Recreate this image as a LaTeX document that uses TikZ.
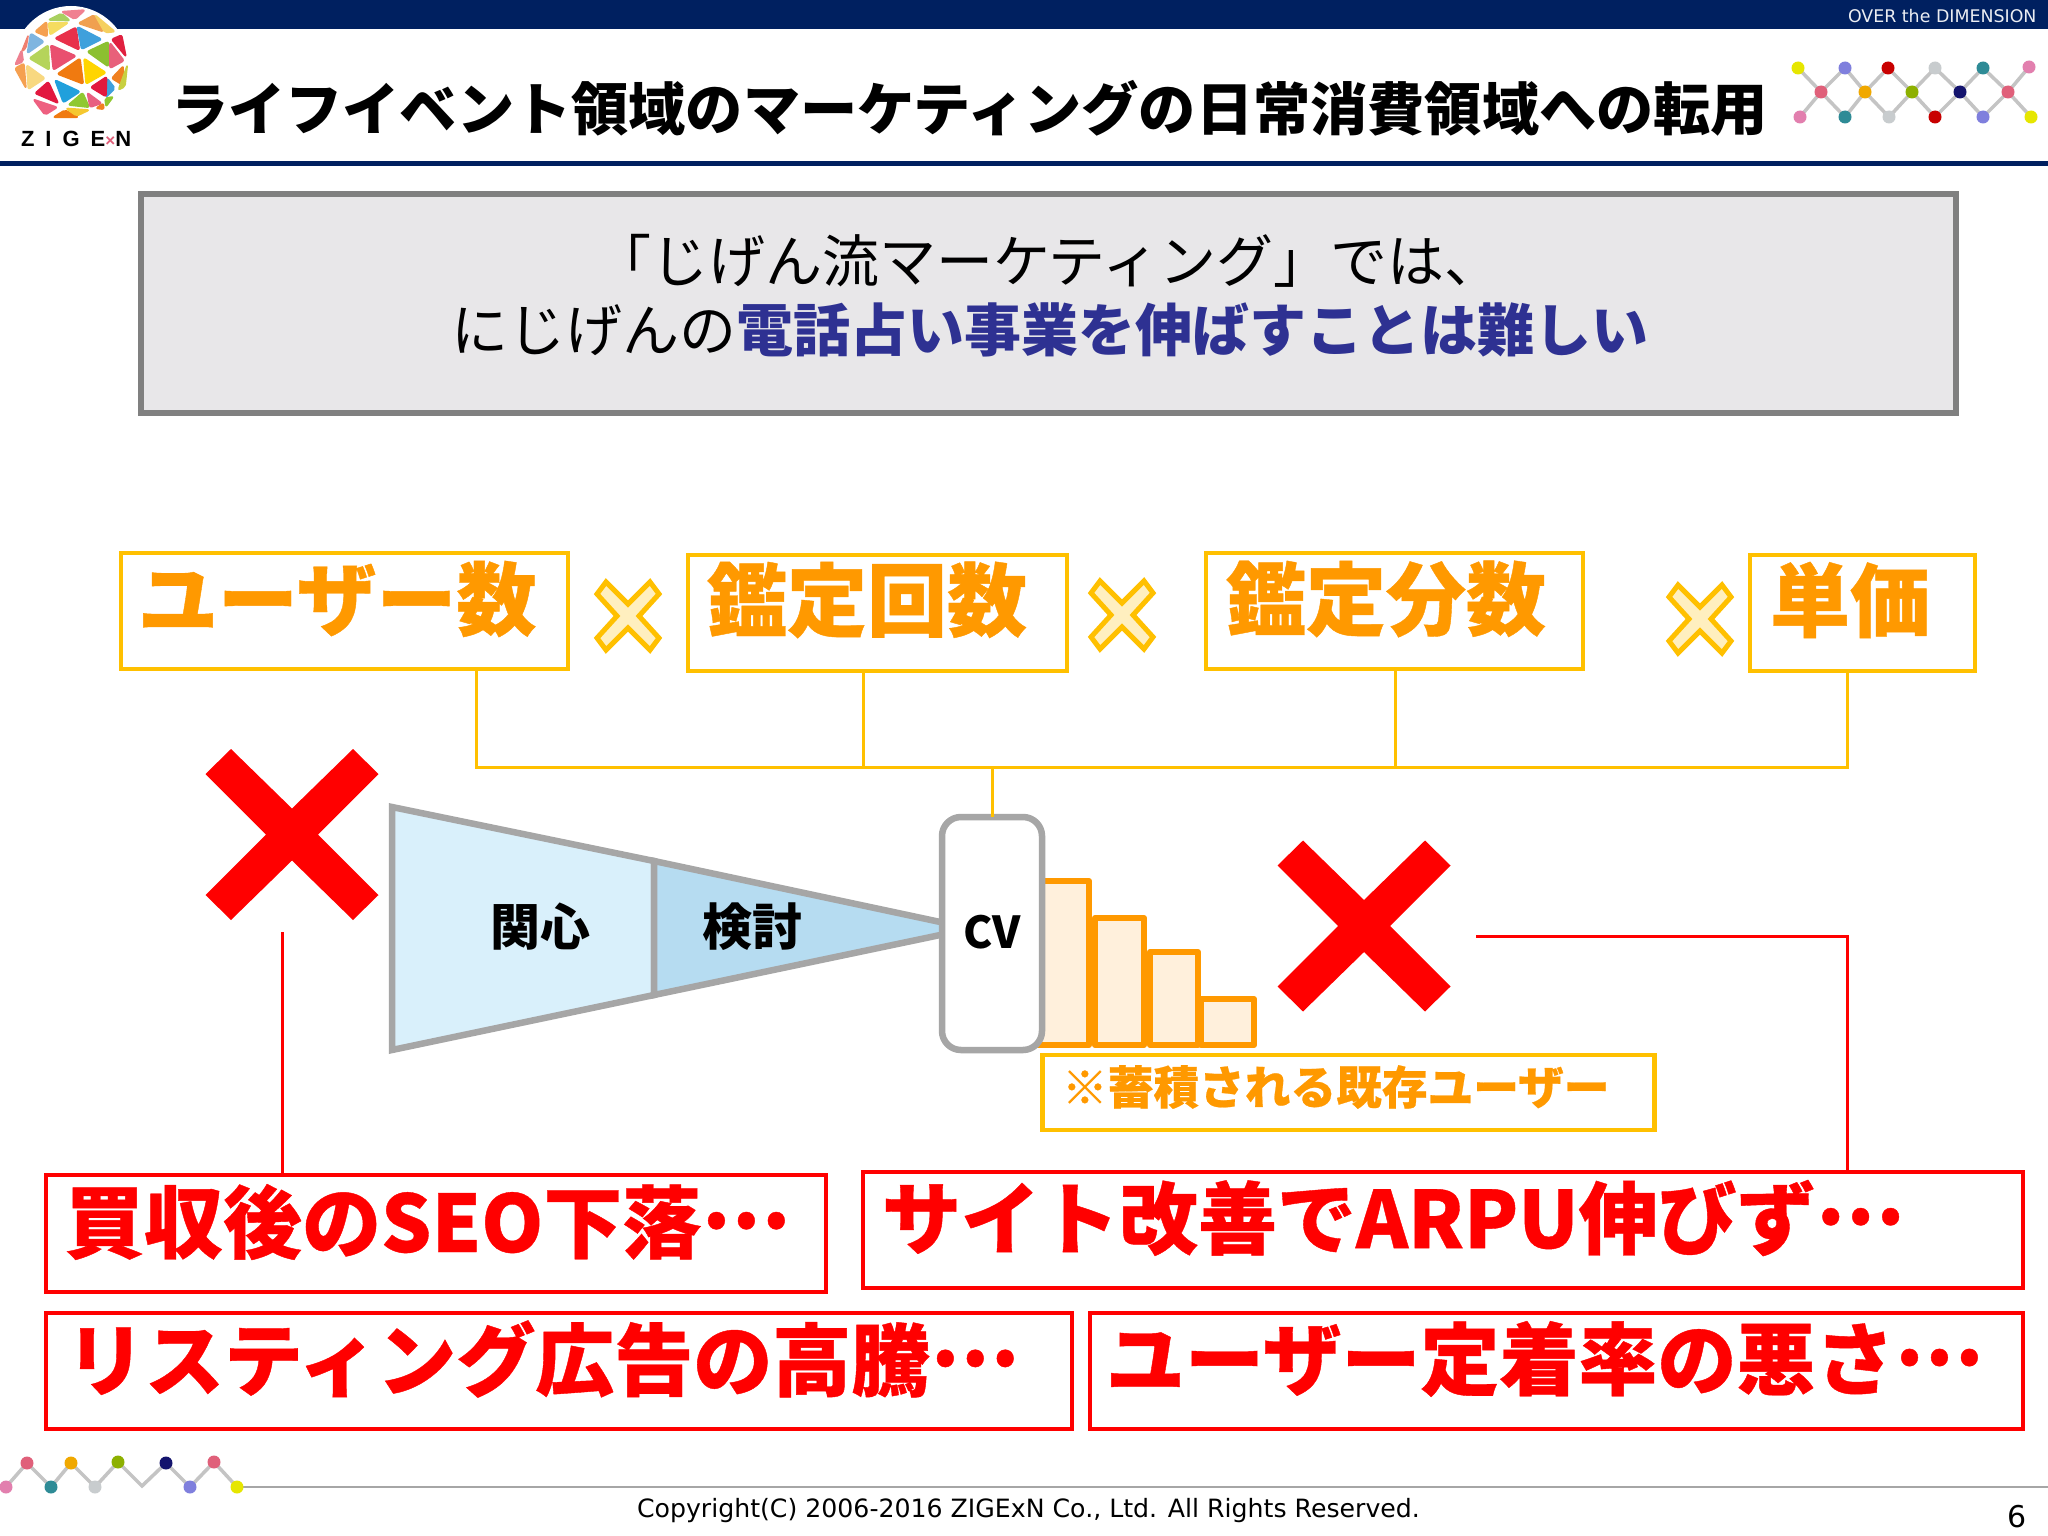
\documentclass[tikz,border=0pt]{standalone}
\usepackage{fontspec}
\setmainfont{Noto Sans CJK JP}
\newfontfamily\latf{DejaVu Sans}
\newfontfamily\logof[LetterSpace=50]{Liberation Sans}
\newcommand{\fz}[1]{\fontsize{#1}{#1}\selectfont}
\newcommand{\hv}{\bfseries\addfontfeature{FakeBold=0.5}}
\newcommand{\dd}{\raisebox{0.3em}{…}}
\definecolor{navy}{HTML}{002060}
\definecolor{ogold}{HTML}{FFC000}
\definecolor{oorange}{HTML}{FF9900}
\definecolor{gedge}{HTML}{A6A6A6}
\definecolor{chain}{HTML}{C4C4C4}
\definecolor{crose}{HTML}{E0607A}
\definecolor{cpink}{HTML}{E27FAE}
\definecolor{cteal}{HTML}{2E8B96}
\definecolor{cpurple}{HTML}{7F7FDD}
\definecolor{cred}{HTML}{C80000}
\definecolor{csilver}{HTML}{C8CCCE}
\definecolor{cyellow}{HTML}{E6E600}
\definecolor{camber}{HTML}{F0A800}
\definecolor{colive}{HTML}{8DB000}
\definecolor{cnavy}{HTML}{14146E}
\definecolor{stepfill}{HTML}{FFF0DC}
\definecolor{fun1}{HTML}{D9F0FB}
\definecolor{fun2}{HTML}{B6DCF1}
\definecolor{boxgrey}{HTML}{E8E7E9}
\definecolor{boxedge}{HTML}{808080}
\definecolor{emph}{HTML}{2E3192}
\tikzset{
  txt/.style={inner sep=0pt,outer sep=0pt,anchor=west},
  obox/.style={draw=ogold,line width=4.5pt,fill=white,rectangle,inner sep=0pt,outer sep=0pt},
  rbox/.style={draw=red,line width=4.5pt,fill=white,rectangle,inner sep=0pt,outer sep=0pt},
  oline/.style={draw=ogold,line width=3pt},
  rline/.style={draw=red,line width=3pt},
  otxt/.style={txt,text=oorange,font=\hv\fz{80}},
  rtxt/.style={txt,text=red,font=\hv\fz{79}},
  funnel/.style={draw=gedge,line width=6.5pt,line join=miter},
  stepbar/.style={draw=oorange,line width=6pt,fill=stepfill,line join=round},
  dot/.style={circle,inner sep=0pt,minimum size=13pt,fill=#1},
  link/.style={draw=chain,line width=3.5pt},
}
\newcommand{\mulmark}[2]{\draw[ogold,line width=5pt,fill=ogold!25,line join=miter] (#1-31,#2-22)--(#1-22,#2-34)--(#1,#2-12)--(#1+22,#2-34)--(#1+31,#2-22)--(#1+11,#2)--(#1+31,#2+22)--(#1+22,#2+34)--(#1,#2+12)--(#1-22,#2+34)--(#1-31,#2+22)--(#1-11,#2)--cycle;}
\newcommand{\redx}[2]{\fill[red] (#1-61,#2-85.5)--(#1,#2-26)--(#1+61,#2-85.5)--(#1+86.5,#2-60.5)--(#1+26,#2)--(#1+86.5,#2+60.5)--(#1+61,#2+85.5)--(#1,#2+26)--(#1-61,#2+85.5)--(#1-86.5,#2+60.5)--(#1-26,#2)--(#1-86.5,#2-60.5)--cycle;}
\newcommand{\tri}[4]{\definecolor{tc}{HTML}{#1}\filldraw[tc,line width=1.5pt,line join=round,rounded corners=2pt] (#2)--(#3)--(#4)--cycle;}
\begin{document}
\begin{tikzpicture}[x=1pt,y=-1pt]
\useasboundingbox (0,0) rectangle (2048,1536);
\fill[white] (0,0) rectangle (2048,1536);
% header
\fill[navy] (0,0) rectangle (2048,29);
\fill[navy] (0,161) rectangle (2048,166);
\node[txt,text=white!92!navy,font=\latf\fz{17.4}] (over) at (1848,16) {OVER the DIMENSION};
% logo
\fill[white] (71,64) circle (58);
\begin{scope}[x=0.3333pt,y=-0.3333pt]
\tri{F07A10}{172,222}{240,175}{250,252}
\tri{FFD500}{252,175}{318,218}{258,252}
\tri{E9506F}{152,135}{228,168}{160,210}
\tri{8CC030}{262,155}{325,125}{325,200}
\tri{B5D45A}{88,175}{145,135}{148,210}
\tri{7FB5E0}{82,160}{92,100}{132,125}
\tri{E8304A}{165,115}{228,82}{238,150}
\tri{3FA0DC}{232,80}{305,118}{245,148}
\tri{F0A050}{235,70}{282,45}{310,95}
\tri{F5D060}{285,45}{345,95}{315,98}
\tri{A8D060}{145,60}{185,40}{210,62}
\tri{F08090}{185,35}{255,30}{225,58}
\tri{F5DC60}{145,68}{205,68}{150,105}
\tri{F5A050}{105,95}{140,65}{142,110}
\tri{E0203F}{335,118}{365,105}{378,170}
\tri{E8607A}{330,128}{372,182}{330,205}
\tri{F08020}{335,235}{370,198}{368,255}
\tri{C8D040}{355,270}{382,195}{375,260}
\tri{3FA0DC}{322,235}{345,265}{318,292}
\tri{E2183F}{272,262}{320,230}{318,290}
\tri{20A0DC}{165,240}{240,275}{190,308}
\tri{E2183F}{105,280}{145,245}{175,310}
\tri{EE6080}{100,298}{172,322}{135,345}
\tri{90C830}{205,315}{248,278}{268,322}
\tri{E86080}{262,278}{305,310}{270,322}
\tri{F07A10}{160,352}{195,330}{235,352}
\tri{F5C830}{198,325}{268,330}{230,348}
\tri{F08020}{288,325}{310,310}{312,328}
\tri{90C830}{315,295}{340,290}{318,320}
\tri{F5A050}{45,205}{72,190}{78,265}
\tri{F8D880}{80,195}{135,235}{85,268}
\tri{EE8090}{45,195}{65,150}{70,185}
\tri{F08070}{65,155}{85,105}{78,145}
\end{scope}
\node[txt,font=\logof\bfseries\fz{22}] (logotxt) at (21,139) {ZIGE{\color{crose}\fz{17}×}N};
% title
\node[txt,font=\bfseries\fz{57.2}] (title) at (171,108) {ライフイベント領域のマーケティングの日常消費領域への転用};
% top chain
\foreach \n/\x/\y in {u1/1798/68,u2/1845/68,u3/1888/68,u4/1935/68,u5/1983/68,u6/2029/67,m1/1821/92,m2/1865/92,m3/1912/92,m4/1960/92,m5/2008/92,l1/1800/117,l2/1845/117,l3/1889/117,l4/1935/117,l5/1983/117,l6/2031/117}
  \coordinate (\n) at (\x,\y);
\foreach \a/\b in {u1/m1,l1/m1,u2/m1,l2/m1,u2/m2,l2/m2,u3/m2,l3/m2,u3/m3,l3/m3,u4/m3,l4/m3,u4/m4,l4/m4,u5/m4,l5/m4,u5/m5,l5/m5,u6/m5,l6/m5}
  \draw[link] (\a)--(\b);
\foreach \n/\c in {u1/cyellow,u2/cpurple,u3/cred,u4/csilver,u5/cteal,u6/cpink,m1/crose,m2/camber,m3/colive,m4/cnavy,m5/crose,l1/cpink,l2/cteal,l3/csilver,l4/cred,l5/cpurple,l6/cyellow}
  \node[dot=\c] at (\n) {};
% grey box
\node[draw=boxedge,line width=5.5pt,fill=boxgrey,rectangle,inner sep=0pt,minimum width=1815pt,minimum height=219pt] (lead) at (1048.5,303.5) {};
\node[txt,font=\fz{57}] (lead1) at (594,261) {「じげん流マーケティング」では、};
\node[txt,font=\fz{57}] (lead2) at (451,330) {にじげんの{\bfseries\color{emph}電話占い事業を伸ばすことは難しい}};
% kpi boxes
\node[obox,minimum width=447pt,minimum height=116pt] (kpi1) at (344.5,611) {};
\node[obox,minimum width=379pt,minimum height=116pt] (kpi2) at (877.5,613) {};
\node[obox,minimum width=377pt,minimum height=116pt] (kpi3) at (1394.5,611) {};
\node[obox,minimum width=225pt,minimum height=116pt] (kpi4) at (1862.5,613) {};
\node[otxt] (kt1) at (138,599) {ユーザー数};
\node[otxt] (kt2) at (707,600) {鑑定回数};
\node[otxt] (kt3) at (1226,599) {鑑定分数};
\node[otxt] (kt4) at (1770,600) {単価};
\mulmark{628}{616}
\mulmark{1122}{615}
\mulmark{1700}{619}
% steps
\draw[stepbar] (1201,1045) rectangle (1254,999);
\draw[stepbar] (1150,1045) rectangle (1198,952);
\draw[stepbar] (1095,1045) rectangle (1144,918);
\draw[stepbar] (1035,1045) rectangle (1089,881);
% funnel
\draw[funnel,fill=fun1] (392,807)--(654,861)--(654,995)--(392,1050)--cycle;
\draw[funnel,fill=fun2] (654,861)--(945,923)--(945,934)--(654,995)--cycle;
\node[font=\bfseries\fz{50}] (n1) at (540,927) {関心};
\node[font=\bfseries\fz{50}] (n2) at (752,927) {検討};
% CV
\node[draw=gedge,line width=6.5pt,fill=white,rectangle,rounded corners=19pt,inner sep=0pt,outer sep=0pt,minimum width=100pt,minimum height=233pt,font=\bfseries\fz{44}] (cv) at (992,933.5) {\raisebox{4pt}{CV}};
% bracket
\coordinate (c1) at (476,767);
\coordinate (c2) at (863,767);
\coordinate (c3) at (1395,767);
\coordinate (c4) at (1847,767);
\coordinate (jun) at (992,767);
\draw[oline] (kpi1.south -| c1)--(c1)--(c4)--(kpi4.south -| c4);
\draw[oline] (kpi2.south -| c2)--(c2);
\draw[oline] (kpi3.south -| c3)--(c3);
\draw[oline] (jun)--(cv.north);
% note
\node[obox,minimum width=612pt,minimum height=75pt] (note) at (1348.5,1092.5) {};
\node[txt,text=oorange,font=\hv\fz{45.7}] (notet) at (1062,1087) {※蓄積される既存ユーザー};
% red X
\redx{292}{834.5}
\redx{1364}{926}
% red boxes
\node[rbox,minimum width=780pt,minimum height=117pt] (r1) at (436,1233.5) {};
\node[rbox,minimum width=1160pt,minimum height=116pt] (r2) at (1443,1230) {};
\node[rbox,minimum width=1026pt,minimum height=116pt] (r3) at (559,1371) {};
\node[rbox,minimum width=933pt,minimum height=116pt] (r4) at (1556.5,1371) {};
\node[rtxt] (rt1) at (65,1222) {買収後のSEO下落\dd};
\node[rtxt] (rt2) at (882,1218) {サイト改善でARPU伸びず\dd};
\node[rtxt] (rt3) at (66,1359) {リスティング広告の高騰\dd};
\node[rtxt] (rt4) at (1106,1359) {ユーザー定着率の悪さ\dd};
\coordinate (xa) at (282,932);
\coordinate (xb) at (1476,936);
\coordinate (xc) at (1847,936);
\draw[rline] (xa)--(xa |- r1.north);
\draw[rline] (xb)--(xc)--(xc |- r2.north);
% footer chain
\foreach \n/\x/\y in {b1/6/1487,b2/27/1463,b3/51/1487,b4/71/1463,b5/95/1487,b6/118/1462,b7/142/1486,b8/166/1463,b9/190/1487,b10/214/1462,b11/237/1487}
  \coordinate (\n) at (\x,\y);
\draw[link,line join=miter] (b1)--(b2)--(b3)--(b4)--(b5)--(b6)--(b7)--(b8)--(b9)--(b10)--(b11);
\coordinate (fr) at (2048,1487);
\draw[gedge,line width=2.5pt] (b11)--(fr);
\foreach \n/\c in {b1/cpink,b2/crose,b3/cteal,b4/camber,b5/csilver,b6/colive,b8/cnavy,b9/cpurple,b10/crose,b11/cyellow}
  \node[dot=\c] at (\n) {};
\node[txt,font=\latf\fz{25.2}] (copy) at (637,1511) {Copyright(C) 2006-2016 ZIGExN Co., Ltd. All Rights Reserved.};
\node[txt,font=\latf\fz{30}] (page) at (2007,1517) {6};
\end{tikzpicture}
\end{document}
